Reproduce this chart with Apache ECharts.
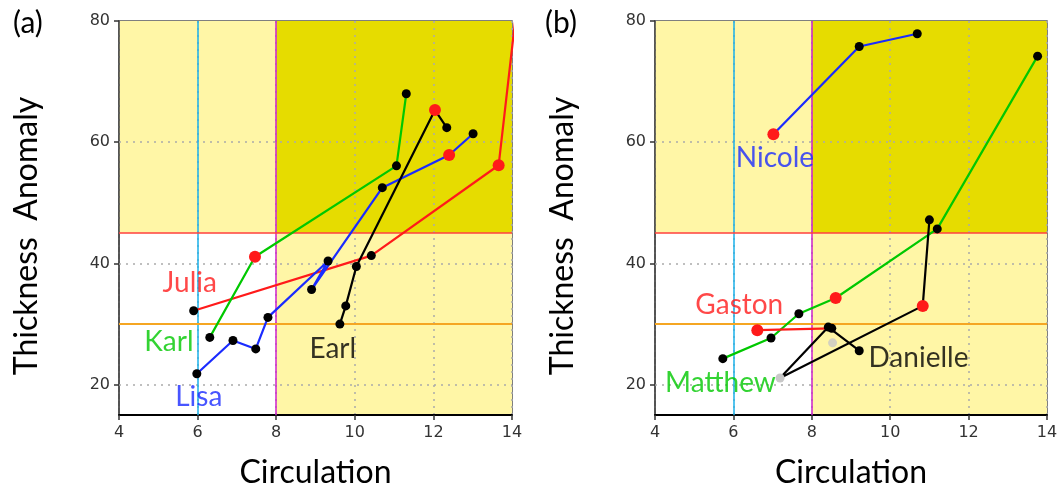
<!DOCTYPE html>
<html>
<head>
<meta charset="utf-8">
<script src="https://cdn.jsdelivr.net/npm/echarts@6/dist/echarts.min.js"></script>
<style>
html,body{margin:0;padding:0;background:#fff;}
#chart{width:1057px;height:494px;}
</style>
</head>
<body>
<div id="chart"></div>
<script>
// ---- axis ranges / ticks ----
const xTicks = [4, 6, 8, 10, 12, 14];
const yTicks = [20, 40, 60, 80];
const xRange = [4, 14];
const yRange = [15, 80];
// reference thresholds
const circThresholds = [6, 8];        // cyan, magenta
const thickThresholds = [30, 45];     // orange, red

// ---- panel (a) tracks: [circulation, thickness anomaly] ----
const julia = [[5.90, 32.2], [10.42, 41.3], [13.66, 56.2], [14.08, 80.0]];
const juliaMarked = [2];
const karl = [[6.31, 27.8], [7.46, 41.1], [11.06, 56.1], [11.31, 68.0]];
const karlMarked = [1];
const lisa = [[5.98, 21.8], [6.90, 27.3], [7.48, 25.9], [7.79, 31.1], [9.32, 40.4], [8.90, 35.7], [10.70, 52.5], [12.40, 57.9], [13.01, 61.4]];
const lisaMarked = [7];
const earl = [[9.62, 30.0], [9.77, 33.0], [10.04, 39.5], [12.04, 65.3], [12.34, 62.4]];
const earlMarked = [3];

// ---- panel (b) tracks ----
const nicole = [[7.02, 61.3], [9.21, 75.8], [10.69, 77.9]];
const nicoleMarked = [0];
const matthew = [[5.73, 24.3], [6.96, 27.7], [7.67, 31.7], [8.61, 34.3], [11.20, 45.7], [13.76, 74.2]];
const matthewMarked = [3];
const gaston = [[6.61, 29.0], [8.51, 29.3]];
const gastonMarked = [0];
const danielle = [[11.00, 47.2], [10.83, 33.0], [7.19, 21.1], [8.42, 29.5], [9.21, 25.6]];
const danielleMarked = [1];
const danielleFaint = [2];
const faintPoints = [[8.53, 26.9]];

// ---- storm name labels (data coordinates) ----
const namesA = ['Julia', 'Karl', 'Lisa', 'Earl'];
const namePosA = [[5.80, 36.8], [5.27, 27.0], [6.03, 18.0], [9.44, 25.9]];
const namesB = ['Nicole', 'Gaston', 'Matthew', 'Danielle'];
const namePosB = [[7.06, 57.4], [6.15, 33.2], [5.67, 20.3], [10.72, 24.4]];

const RED = '#ff1a1a', GREEN = '#00c800', BLUE = '#1a2bff', BLACK = '#000000';
const FONT = 'Lato';

function pts(arr, marked, faint) {
  faint = faint || [];
  return arr.map((p, i) => {
    const m = marked.includes(i), f = faint.includes(i);
    return {
      value: p,
      symbolSize: m ? 12 : 9,
      itemStyle: { color: m ? RED : (f ? '#c8c8c8' : BLACK), borderWidth: 0 }
    };
  });
}

function track(name, arr, marked, color, gi, faint) {
  return {
    name: name, type: 'line', xAxisIndex: gi, yAxisIndex: gi, z: 3,
    symbol: 'circle', showSymbol: true, showAllSymbol: true,
    data: pts(arr, marked, faint),
    lineStyle: { color: color, width: 2.2 },
    emphasis: { disabled: true }
  };
}

function background(gi) {
  const light = '#fff6a6', dark = '#e6dc00';
  const dotted = { color: '#aaa', width: 1.5, type: [2, 5] };
  return {
    type: 'line', xAxisIndex: gi, yAxisIndex: gi, data: [], silent: true,
    markArea: {
      silent: true, z: 1,
      data: [
        [{ xAxis: xRange[0], yAxis: thickThresholds[1], itemStyle: { color: light } }, { xAxis: circThresholds[1], yAxis: yRange[1] }],
        [{ xAxis: circThresholds[1], yAxis: thickThresholds[1], itemStyle: { color: dark } }, { xAxis: xRange[1], yAxis: yRange[1] }],
        [{ xAxis: circThresholds[1], yAxis: yRange[0], itemStyle: { color: light } }, { xAxis: xRange[1], yAxis: thickThresholds[1] }]
      ]
    },
    markLine: {
      silent: true, symbol: 'none', z: 2.5,
      label: { show: false },
      data: yTicks.filter(v => v < yRange[1]).map(v => ({ yAxis: v, lineStyle: dotted })).concat([
        { xAxis: circThresholds[0], lineStyle: { color: '#1ab0ea', width: 1.5, type: 'solid' } },
        { xAxis: circThresholds[1], lineStyle: { color: '#cc22cc', width: 1.5, type: 'solid' } },
        { yAxis: thickThresholds[0], lineStyle: { color: '#f5a623', width: 2, type: 'solid' } },
        { yAxis: thickThresholds[1], lineStyle: { color: '#ff4040', width: 1.5, type: 'solid' } }
      ])
    }
  };
}

function names(list, pos, colors, gi) {
  return {
    type: 'scatter', xAxisIndex: gi, yAxisIndex: gi, z: 4, symbolSize: 0, silent: true,
    data: list.map((n, i) => ({
      name: n, value: pos[i],
      label: { show: true, position: 'inside', formatter: n, color: colors[i], fontSize: 28, fontFamily: FONT }
    }))
  };
}

function xAxis(gi) {
  return {
    type: 'value', gridIndex: gi, min: xRange[0], max: xRange[1], interval: 2, z: 2,
    name: 'Circulation', nameLocation: 'middle', nameGap: 42,
    nameTextStyle: { fontSize: 32, fontFamily: FONT, color: '#000' },
    axisLine: { show: true, onZero: false, lineStyle: { color: '#000', width: 2 } },
    axisTick: { show: true, length: 5, lineStyle: { color: '#333', width: 1.5 } },
    axisLabel: { fontSize: 16, fontFamily: 'DejaVu Sans', color: '#333', margin: 10 },
    splitLine: { show: true, lineStyle: { color: '#aaa', type: [2, 5], width: 1.5 } }
  };
}
function yAxis(gi) {
  return {
    type: 'value', gridIndex: gi, min: yRange[0], max: yRange[1], z: 2,
    name: 'Thickness  Anomaly', nameLocation: 'middle', nameGap: 76,
    nameTextStyle: { fontSize: 32, fontFamily: FONT, color: '#000', padding: [0, 36, 0, 0] },
    axisLine: { show: true, onZero: false, lineStyle: { color: '#444', width: 1.5 } },
    axisTick: { show: true, length: 5, customValues: yTicks, lineStyle: { color: '#333', width: 1.5 } },
    axisLabel: { fontSize: 16, fontFamily: 'DejaVu Sans', color: '#333', margin: 9, customValues: yTicks },
    splitLine: { show: false }
  };
}

const chart = echarts.init(document.getElementById('chart'), null, { renderer: 'canvas' });
chart.setOption({
  animation: false,
  backgroundColor: '#fff',
  title: [
    { text: '(a)', left: 8, top: 3, textStyle: { fontSize: 30, fontWeight: 'normal', fontFamily: FONT, color: '#000' } },
    { text: '(b)', left: 540, top: 3, textStyle: { fontSize: 30, fontWeight: 'normal', fontFamily: FONT, color: '#000' } }
  ],
  grid: [
    { left: 119, top: 21, width: 393, height: 394, show: true, borderColor: '#555', borderWidth: 1.5, backgroundColor: 'transparent', containLabel: false, outerBoundsMode: 'none' },
    { left: 655, top: 21, width: 392, height: 394, show: true, borderColor: '#555', borderWidth: 1.5, backgroundColor: 'transparent', containLabel: false, outerBoundsMode: 'none' }
  ],
  xAxis: [xAxis(0), xAxis(1)],
  yAxis: [yAxis(0), yAxis(1)],
  series: [
    background(0),
    background(1),
    track('Julia', julia, juliaMarked, RED, 0),
    track('Karl', karl, karlMarked, GREEN, 0),
    track('Lisa', lisa, lisaMarked, BLUE, 0),
    track('Earl', earl, earlMarked, BLACK, 0),
    track('Nicole', nicole, nicoleMarked, BLUE, 1),
    track('Matthew', matthew, matthewMarked, GREEN, 1),
    track('Danielle', danielle, danielleMarked, BLACK, 1, danielleFaint),
    track('Gaston', gaston, gastonMarked, RED, 1),
    {
      type: 'scatter', xAxisIndex: 1, yAxisIndex: 1, z: 3, symbolSize: 9, silent: true,
      itemStyle: { color: '#c8c8c8' }, data: faintPoints
    },
    names(namesA, namePosA, [RED, GREEN, BLUE, BLACK], 0),
    names(namesB, namePosB, [BLUE, RED, GREEN, BLACK], 1)
  ]
});
</script>
</body>
</html>
